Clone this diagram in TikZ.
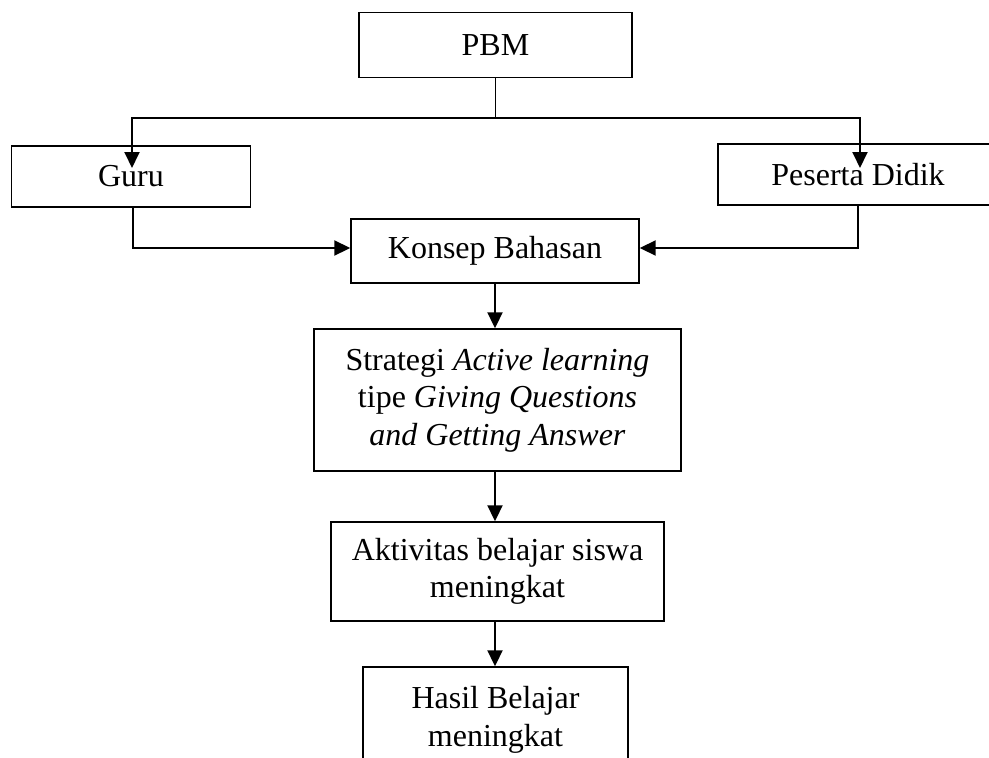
\documentclass[tikz,border=0pt]{standalone}
\usepackage{fontspec}
\setmainfont{Liberation Serif}
\usetikzlibrary{arrows.meta}

\begin{document}
\begin{tikzpicture}[x=1pt,y=-1pt,
        kotak/.style={draw,line width=1.4pt,align=center,inner sep=0pt,font=\fontsize{32}{37.5}\selectfont},
        panah/.style={line width=1.9pt,-{Triangle[length=16pt,width=15pt]}},
        garis/.style={line width=1.9pt}]
        \clip (0,0) rectangle (989,758);

        \node[kotak,minimum width=273pt,minimum height=65pt] (pbm) at (495.5,45) {PBM};
        \node[kotak,minimum width=239pt,minimum height=61pt] (guru) at (131,176.5) {Guru};
        \node[kotak,minimum width=280pt,minimum height=61pt] (peserta) at (858,174.5) {Peserta Didik};
        \node[kotak,minimum width=288pt,minimum height=64pt] (konsep) at (495,251) {Konsep Bahasan};
        \node[kotak,minimum width=367pt,minimum height=142pt] (strategi) at (497.5,400)
            {Strategi \textit{Active learning}\\tipe \textit{Giving Questions}\\\textit{and Getting Answer}};
        \node[kotak,minimum width=333pt,minimum height=99pt] (aktivitas) at (497.5,571.5)
            {Aktivitas belajar siswa\\meningkat};
        \node[kotak,minimum width=265pt,minimum height=106pt] (hasil) at (495.5,720)
            {Hasil Belajar\\meningkat};

        \coordinate (cabang) at (495.5,118);
        \coordinate (ujungguru) at (132,168);
        \coordinate (ujungpeserta) at (860,168);
        \draw[garis] (pbm.south) -- (cabang);
        \draw[panah] (cabang) -| (ujungguru);
        \draw[panah] (cabang) -| (ujungpeserta);

        \draw[panah] ([xshift=2pt]guru.south) |- ([yshift=3pt]konsep.west);
        \draw[panah] (peserta.south) |- ([yshift=3pt]konsep.east);

        \draw[panah] (konsep.south) -- (konsep.south |- strategi.north);
        \draw[panah] (strategi.south -| konsep.south) -- (konsep.south |- aktivitas.north);
        \draw[panah] (aktivitas.south -| konsep.south) -- (konsep.south |- hasil.north);
    \end{tikzpicture}
\end{document}
